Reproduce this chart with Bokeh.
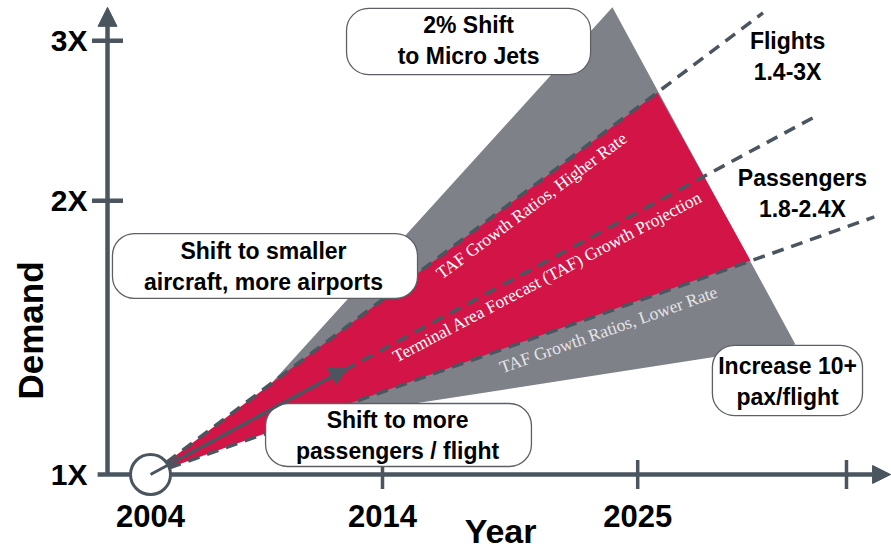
import math
from bokeh.plotting import figure
from bokeh.models import Range1d, Arrow, NormalHead
from bokeh.core.properties import value
from bokeh.embed import file_html
from bokeh.resources import INLINE

# ---------------- data ----------------
year_ticks = [2004, 2014, 2025, 2034]
year_labels = ["2004", "2014", "2025", ""]
demand_ticks = [1, 2, 3]
demand_labels = ["1X", "2X", "3X"]

base_year = 2004
base_demand = 1.0

# forecast lines (dashed) from the 2004 base
line_names = ["TAF Growth Ratios, Higher Rate",
              "Terminal Area Forecast (TAF) Growth Projection",
              "TAF Growth Ratios, Lower Rate"]
line_end_year = [2030.4, 2032.7, 2035.2]
line_end_demand = [3.22, 2.48, 1.92]

# red TAF band
band_year = [2004, 2025.85, 2029.86]
band_demand = [1.0, 2.63, 1.72]

# gray fan of wider outcomes
fan_year = [2009.17, 2023.91, 2031.80, 2010.47]
fan_demand = [1.257, 3.265, 1.390, 1.145]

# solid trend arrow
arrow_end_year = 2012.5
arrow_end_demand = 1.31

# callout boxes
box_text = ["2% Shift\nto Micro Jets",
            "Shift to smaller\naircraft, more airports",
            "Shift to more\npassengers / flight",
            "Increase 10+\npax/flight"]
box_left = [2012.45, 2002.36, 2008.96, 2028.22]
box_right = [2022.97, 2015.51, 2020.42, 2034.69]
box_top = [3.256, 1.841, 1.197, 1.387]
box_bottom = [2.754, 1.562, 1.0205, 1.161]
box_tx = [2017.71, 2008.87, 2014.65, 2031.46]
box_ty = [2.999, 1.694, 1.104, 1.266]

side_text = ["Flights\n1.4-3X", "Passengers\n1.8-2.4X"]
side_x = [2031.46, 2032.10]
side_y = [2.883, 2.038]

band_label_x = [2020.42, 2021.11, 2023.74]
band_label_y = [1.976, 1.651, 1.444]
band_label_angle = [36.7, 27.8, 19.5]
band_label_color = ["#ffffff", "#ffffff", "#e4e4e6"]

# ---------------- styling ----------------
RED = "#D21446"
GRAY = "#7F8189"
DARK = "#4A555F"
FONT = value("Liberation Sans")
SERIF = value("Liberation Serif")

p = figure(width=891, height=552, output_backend="svg", toolbar_location=None,
           x_range=Range1d(1997.534, 2035.94), y_range=Range1d(0.8207, 3.3222),
           y_axis_type="log", min_border=0)
p.xaxis.visible = False
p.yaxis.visible = False
p.grid.visible = False
p.outline_line_color = None
p.background_fill_color = "white"
p.border_fill_color = "white"

axis_x = 2002.147  # where the demand axis stands

# gray fan, red band
p.patch(fan_year, fan_demand, fill_color=GRAY, line_color=None)
p.patch(band_year, band_demand, fill_color=RED, line_color=None)

# dashed growth lines
p.segment(x0=[base_year] * 3, y0=[base_demand] * 3, x1=line_end_year, y1=line_end_demand,
          line_color=DARK, line_width=3.5, line_dash="12 8")

# trend arrow
p.add_layout(Arrow(x_start=base_year, y_start=base_demand, x_end=arrow_end_year, y_end=arrow_end_demand,
                   line_color=DARK, line_width=3,
                   end=NormalHead(size=18, fill_color=DARK, line_color=DARK)))

# labels inside the fan
p.text(x=band_label_x, y=band_label_y, text=line_names, angle=band_label_angle, angle_units="deg",
       text_align="center", text_baseline="middle", text_font=SERIF, text_font_size="17.5px",
       text_color=band_label_color)

# axes
p.add_layout(Arrow(x_start=2001.72, y_start=base_demand, x_end=2035.9, y_end=base_demand,
                   line_color=DARK, line_width=4.5, level="underlay",
                   end=NormalHead(size=18, fill_color=DARK, line_color=DARK)))
p.add_layout(Arrow(x_start=axis_x, y_start=base_demand, x_end=axis_x, y_end=3.265,
                   line_color=DARK, line_width=4.5, level="underlay",
                   end=NormalHead(size=19, fill_color=DARK, line_color=DARK)))
p.scatter(x=[axis_x] * 2, y=demand_ticks[1:], marker="dash", size=31, line_color=DARK, line_width=4.5)
p.scatter(x=year_ticks[1:], y=[base_demand] * 3, marker="dash", angle=math.pi / 2, size=29,
          line_color=DARK, line_width=3.5)
p.text(x=[axis_x] * 3, y=demand_ticks, text=demand_labels, x_offset=-20, text_align="right",
       text_baseline="middle", text_font=FONT, text_font_style="bold", text_font_size="30px",
       text_color="black")
p.text(x=year_ticks, y=[base_demand] * 4, text=year_labels, y_offset=42, text_align="center",
       text_baseline="middle", text_font=FONT, text_font_style="bold", text_font_size="31px",
       text_color="black")
p.text(x=[2019.09], y=[base_demand], text=["Year"], y_offset=57, text_align="center",
       text_baseline="middle", text_font=FONT, text_font_style="bold", text_font_size="34px",
       text_color="black")
p.text(x=[1998.83], y=[1.440], text=["Demand"], angle=90, angle_units="deg", text_align="center",
       text_baseline="middle", text_font=FONT, text_font_style="bold", text_font_size="35px",
       text_color="black")

# base point
p.scatter(x=[base_year], y=[base_demand], size=40, marker="circle", fill_color="white",
          line_color=DARK, line_width=3)

# callouts
p.quad(left=box_left, right=box_right, top=box_top, bottom=box_bottom, fill_color="white",
       line_color="#5c6066", line_width=1.3, border_radius=22)
p.text(x=box_tx, y=box_ty, text=box_text, text_align="center", text_baseline="middle",
       text_font=FONT, text_font_style="bold", text_font_size="23px", text_color="black",
       text_line_height=1.2)
p.text(x=side_x, y=side_y, text=side_text, text_align="center", text_baseline="middle",
       text_font=FONT, text_font_style="bold", text_font_size="23px", text_color="black",
       text_line_height=1.2)

open("out.html", "w").write(file_html(p, INLINE))
